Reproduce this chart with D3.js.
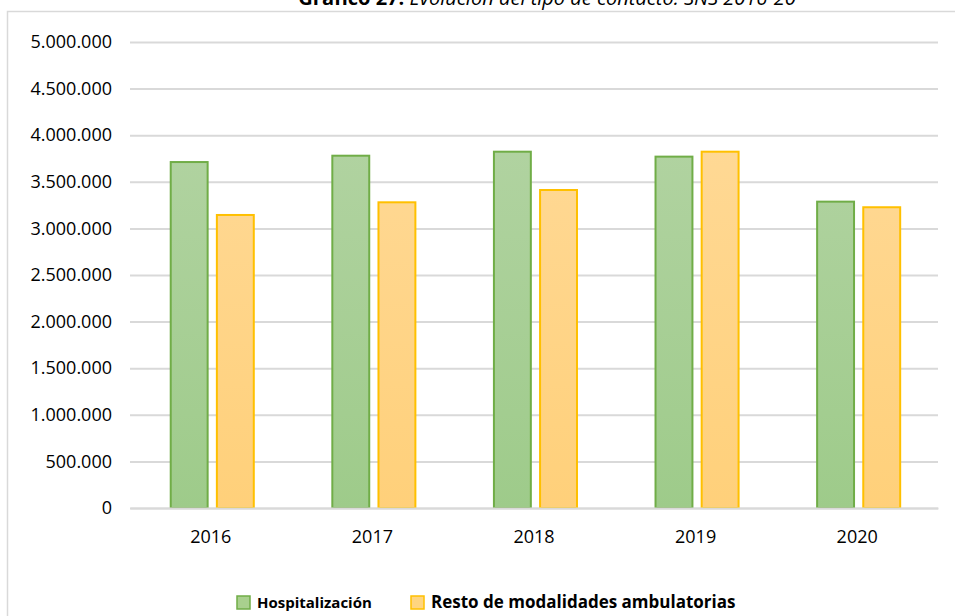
<!DOCTYPE html>
<html>
<head>
<meta charset="utf-8">
<script src="https://cdn.jsdelivr.net/npm/d3@7"></script>
<style>
  body { margin: 0; background: #fff; }
  svg { display: block; font-family: "Open Sans", sans-serif; }
</style>
</head>
<body>
<svg id="chart" width="955" height="616"></svg>
<script>
// data
var years = ["2016", "2017", "2018", "2019", "2020"];
var seriesNames = ["Hospitalización", "Resto de modalidades ambulatorias"];
var hospitalizacion = [3712000, 3780000, 3823000, 3770000, 3287000];
var ambulatorias = [3144000, 3280000, 3412000, 3823000, 3227000];
var yTicks = [0, 500000, 1000000, 1500000, 2000000, 2500000, 3000000, 3500000, 4000000, 4500000, 5000000];

var svg = d3.select("#chart");
// note: "top" is window.top, so use other names
var plotLeft = 130, plotRight = 938, plotTop = 42, plotBottom = 508;

var esLocale = d3.formatLocale({decimal: ",", thousands: ".", grouping: [3], currency: ["", " €"]});
var fmt = esLocale.format(",d");

var x0 = d3.scaleBand().domain(years).range([plotLeft, plotRight]);
var bw = x0.bandwidth();
var x1 = d3.scaleBand().domain(seriesNames)
            .range([bw * 0.252, bw * 0.766])
            .paddingInner(0.2);
var y = d3.scaleLinear().domain([0, 5000000]).range([plotBottom, plotTop]);

// chart frame
svg.append("rect")
    .attr("x", 7.5).attr("y", 11.5)
    .attr("width", 1000).attr("height", 700)
    .attr("fill", "#fff")
    .attr("stroke", "#d9d9d9")
    .attr("stroke-width", 1.5);

// title (partly cut off at the top, like the reference)
var title = svg.append("text")
    .attr("x", 547).attr("y", 5)
    .attr("text-anchor", "middle")
    .style("font-size", "20px")
    .style("fill", "#000");
title.append("tspan").style("font-weight", "bold").text("Gráfico 27: ");
title.append("tspan").style("font-style", "italic").text("Evolución del tipo de contacto. SNS 2016-20");

// gradients
var defs = svg.append("defs");
var grads = [
    {id: "gGreen", c0: "#b6d5a7", c1: "#9ecb8a"},
    {id: "gOrange", c0: "#ffdb9c", c1: "#ffd07a"}
];
grads.forEach(function (g) {
    var lg = defs.append("linearGradient")
        .attr("id", g.id)
        .attr("gradientUnits", "userSpaceOnUse")
        .attr("x1", 0).attr("x2", 0)
        .attr("y1", plotTop).attr("y2", plotBottom);
    lg.append("stop").attr("offset", "0%").attr("stop-color", g.c0);
    lg.append("stop").attr("offset", "100%").attr("stop-color", g.c1);
});

var fills = ["url(#gGreen)", "url(#gOrange)"];
var strokes = ["#70ad47", "#ffc000"];
var legendFills = ["#a9d08e", "#ffd580"];

// y axis with gridlines
var yAxis = svg.append("g")
    .attr("transform", "translate(" + plotLeft + ",0)")
    .call(d3.axisLeft(y)
        .tickValues(yTicks)
        .tickSize(-(plotRight - plotLeft))
        .tickPadding(18)
        .tickFormat(fmt));
yAxis.select(".domain").remove();
yAxis.selectAll(".tick line")
    .attr("stroke", "#d9d9d9")
    .attr("stroke-width", 2);
yAxis.selectAll(".tick text")
    .style("font-family", "Open Sans, sans-serif")
    .style("font-size", "18px")
    .attr("fill", "#000");

// bars
var data = years.map(function (yr, i) {
    return {year: yr, values: [hospitalizacion[i], ambulatorias[i]]};
});

var groups = svg.append("g").selectAll("g")
    .data(data)
    .join("g")
    .attr("transform", function (d) { return "translate(" + x0(d.year) + ",0)"; });

groups.selectAll("rect")
    .data(function (d) {
        return d.values.map(function (v, k) { return {name: seriesNames[k], k: k, value: v}; });
    })
    .join("rect")
    .attr("x", function (d) { return x1(d.name); })
    .attr("y", function (d) { return y(d.value); })
    .attr("width", x1.bandwidth())
    .attr("height", function (d) { return plotBottom - y(d.value); })
    .attr("fill", function (d) { return fills[d.k]; })
    .attr("stroke", function (d) { return strokes[d.k]; })
    .attr("stroke-width", 2);

// x axis
var xAxis = svg.append("g")
    .attr("transform", "translate(0," + plotBottom + ")")
    .call(d3.axisBottom(x0).tickSize(0).tickPadding(22));
xAxis.select(".domain")
    .attr("stroke", "#d9d9d9")
    .attr("stroke-width", 2);
xAxis.selectAll(".tick text")
    .style("font-family", "Open Sans, sans-serif")
    .style("font-size", "18px")
    .attr("fill", "#000");

// legend
var legendItems = [
    {name: seriesNames[0], x: 237, size: 15},
    {name: seriesNames[1], x: 411, size: 17}
];
var legend = svg.append("g");
legendItems.forEach(function (it, k) {
    legend.append("rect")
        .attr("x", it.x).attr("y", 596)
        .attr("width", 13).attr("height", 13)
        .attr("fill", legendFills[k])
        .attr("stroke", strokes[k])
        .attr("stroke-width", 1.5);
    legend.append("text")
        .attr("x", it.x + 20).attr("y", 608)
        .style("font-size", it.size + "px")
        .style("font-weight", "bold")
        .attr("fill", "#000")
        .text(it.name);
});
</script>
</body>
</html>
